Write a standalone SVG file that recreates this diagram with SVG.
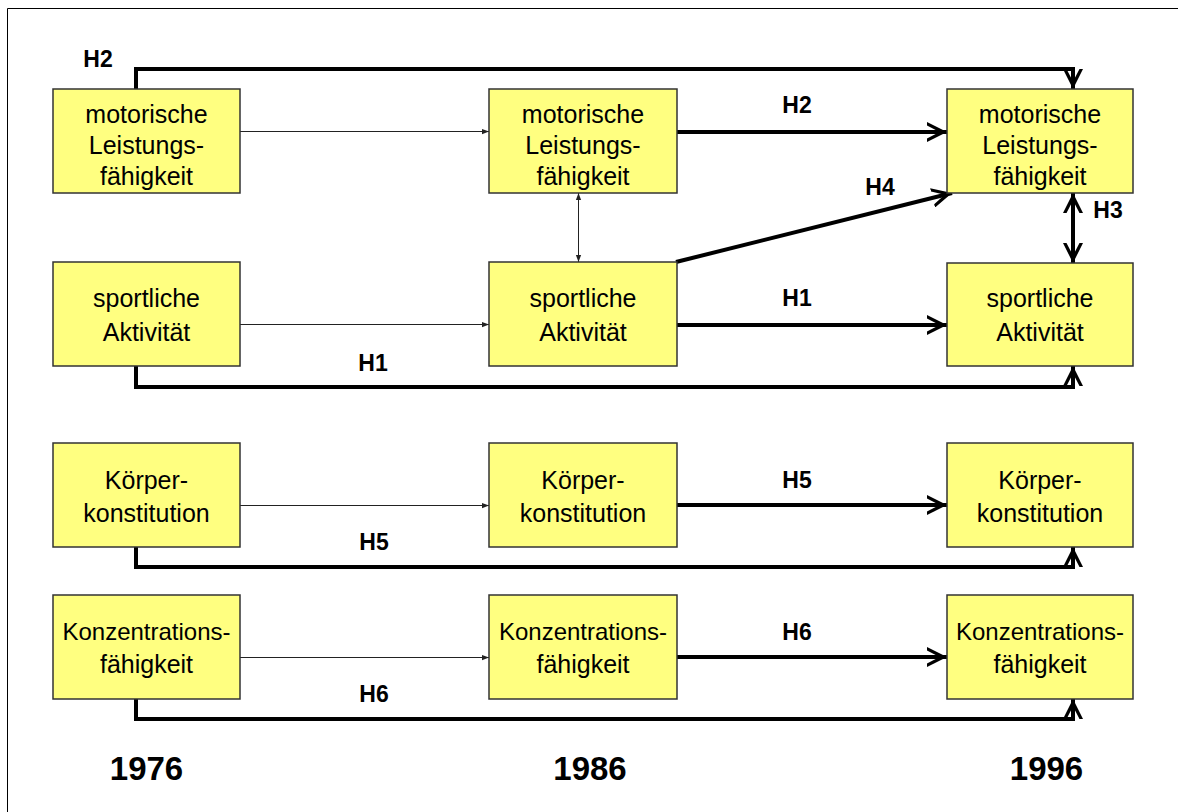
<svg xmlns="http://www.w3.org/2000/svg" width="1178" height="812" viewBox="0 0 1178 812">
  <style>
    .box { fill: #FFFF80; stroke: #333333; stroke-width: 1.5; }
    .lbl { font-family: "Liberation Sans", Arial, sans-serif; font-size: 25px; fill: #000; text-anchor: middle; }
    .lbl.wide { font-size: 24px; }
    .h { font-family: "Liberation Sans", Arial, sans-serif; font-size: 23px; font-weight: bold; fill: #000; text-anchor: middle; }
    .year { font-family: "Liberation Sans", Arial, sans-serif; font-size: 33px; font-weight: bold; fill: #000; text-anchor: middle; }
    .thin { stroke: #222222; stroke-width: 1; fill: none; }
    .thick { stroke: #000; stroke-width: 4; fill: none; stroke-linejoin: miter; }
  </style>
  <defs>
    <marker id="big" viewBox="0 0 20 20" markerUnits="userSpaceOnUse" markerWidth="20" markerHeight="20" refX="20" refY="10" orient="auto-start-reverse">
      <polygon points="0,0 20,10 0,20 0,16.5 12.5,10 0,3.5" fill="#000"/>
    </marker>
    <marker id="small" viewBox="0 0 8 8" markerUnits="userSpaceOnUse" markerWidth="7" markerHeight="7" refX="8" refY="4" orient="auto-start-reverse">
      <polygon points="0,1 8,4 0,7" fill="#222222"/>
    </marker>
  </defs>

  <!-- page frame -->
  <path d="M7.5,812 V8.5 H1178" fill="none" stroke="#000" stroke-width="1"/>

  <g id="connectors">
    <!-- 1976 -> 1986 thin paths -->
    <line class="thin" x1="240" y1="131.5" x2="489" y2="131.5" marker-end="url(#small)"/>
    <line class="thin" x1="240" y1="324.5" x2="489" y2="324.5" marker-end="url(#small)"/>
    <line class="thin" x1="240" y1="505.5" x2="489" y2="505.5" marker-end="url(#small)"/>
    <line class="thin" x1="240" y1="657.5" x2="489" y2="657.5" marker-end="url(#small)"/>
    <!-- 1986 correlation -->
    <line class="thin" x1="578.5" y1="193" x2="578.5" y2="262" marker-start="url(#small)" marker-end="url(#small)"/>

    <!-- 1986 -> 1996 hypotheses -->
    <line class="thick" x1="677" y1="132" x2="947" y2="132" marker-end="url(#big)"/>
    <line class="thick" x1="676" y1="262" x2="952" y2="193" marker-end="url(#big)"/>
    <line class="thick" x1="677" y1="325" x2="947" y2="325" marker-end="url(#big)"/>
    <line class="thick" x1="677" y1="505" x2="947" y2="505" marker-end="url(#big)"/>
    <line class="thick" x1="677" y1="657" x2="947" y2="657" marker-end="url(#big)"/>

    <!-- 1996 correlation H3 -->
    <line class="thick" x1="1073" y1="193" x2="1073" y2="263" marker-start="url(#big)" marker-end="url(#big)"/>

    <!-- 1976 -> 1996 long-term paths -->
    <path class="thick" d="M136,89 V69 H1073 V89" marker-end="url(#big)"/>
    <path class="thick" d="M136,366 V387 H1073 V366" marker-end="url(#big)"/>
    <path class="thick" d="M136,547 V567 H1073 V547" marker-end="url(#big)"/>
    <path class="thick" d="M136,699 V719 H1073 V699" marker-end="url(#big)"/>

    <!-- hypothesis labels -->
    <text class="h" x="98" y="67">H2</text>
    <text class="h" x="797" y="113">H2</text>
    <text class="h" x="880" y="195">H4</text>
    <text class="h" x="1108" y="218">H3</text>
    <text class="h" x="797" y="306">H1</text>
    <text class="h" x="373" y="371">H1</text>
    <text class="h" x="797" y="488">H5</text>
    <text class="h" x="374" y="550">H5</text>
    <text class="h" x="797" y="640">H6</text>
    <text class="h" x="374" y="702">H6</text>
  </g>

  <!-- 1976 -->
  <g id="motor1976">
    <rect class="box" x="53" y="89" width="187" height="104"/>
    <text class="lbl" x="146.5" y="123">motorische</text>
    <text class="lbl" x="146.5" y="154">Leistungs-</text>
    <text class="lbl" x="146.5" y="185">fähigkeit</text>
  </g>
  <g id="sport1976">
    <rect class="box" x="53" y="262" width="187" height="104"/>
    <text class="lbl" x="146.5" y="307">sportliche</text>
    <text class="lbl" x="146.5" y="341">Aktivität</text>
  </g>
  <g id="koerper1976">
    <rect class="box" x="53" y="443" width="187" height="104"/>
    <text class="lbl" x="146.5" y="489">Körper-</text>
    <text class="lbl" x="146.5" y="522">konstitution</text>
  </g>
  <g id="konz1976">
    <rect class="box" x="53" y="595" width="187" height="104"/>
    <text class="lbl wide" x="146.5" y="640">Konzentrations-</text>
    <text class="lbl" x="146.5" y="673">fähigkeit</text>
  </g>

  <!-- 1986 -->
  <g id="motor1986">
    <rect class="box" x="489" y="89" width="188" height="104"/>
    <text class="lbl" x="583" y="123">motorische</text>
    <text class="lbl" x="583" y="154">Leistungs-</text>
    <text class="lbl" x="583" y="185">fähigkeit</text>
  </g>
  <g id="sport1986">
    <rect class="box" x="489" y="262" width="188" height="104"/>
    <text class="lbl" x="583" y="307">sportliche</text>
    <text class="lbl" x="583" y="341">Aktivität</text>
  </g>
  <g id="koerper1986">
    <rect class="box" x="489" y="443" width="188" height="104"/>
    <text class="lbl" x="583" y="489">Körper-</text>
    <text class="lbl" x="583" y="522">konstitution</text>
  </g>
  <g id="konz1986">
    <rect class="box" x="489" y="595" width="188" height="104"/>
    <text class="lbl wide" x="583" y="640">Konzentrations-</text>
    <text class="lbl" x="583" y="673">fähigkeit</text>
  </g>

  <!-- 1996 -->
  <g id="motor1996">
    <rect class="box" x="947" y="89" width="186" height="104"/>
    <text class="lbl" x="1040" y="123">motorische</text>
    <text class="lbl" x="1040" y="154">Leistungs-</text>
    <text class="lbl" x="1040" y="185">fähigkeit</text>
  </g>
  <g id="sport1996">
    <rect class="box" x="947" y="263" width="186" height="103"/>
    <text class="lbl" x="1040" y="307">sportliche</text>
    <text class="lbl" x="1040" y="341">Aktivität</text>
  </g>
  <g id="koerper1996">
    <rect class="box" x="947" y="443" width="186" height="104"/>
    <text class="lbl" x="1040" y="489">Körper-</text>
    <text class="lbl" x="1040" y="522">konstitution</text>
  </g>
  <g id="konz1996">
    <rect class="box" x="947" y="595" width="186" height="104"/>
    <text class="lbl wide" x="1040" y="640">Konzentrations-</text>
    <text class="lbl" x="1040" y="673">fähigkeit</text>
  </g>

  <!-- time axis -->
  <g id="years">
    <text class="year" x="146.5" y="780">1976</text>
    <text class="year" x="590" y="780">1986</text>
    <text class="year" x="1046.5" y="780">1996</text>
  </g>
</svg>
